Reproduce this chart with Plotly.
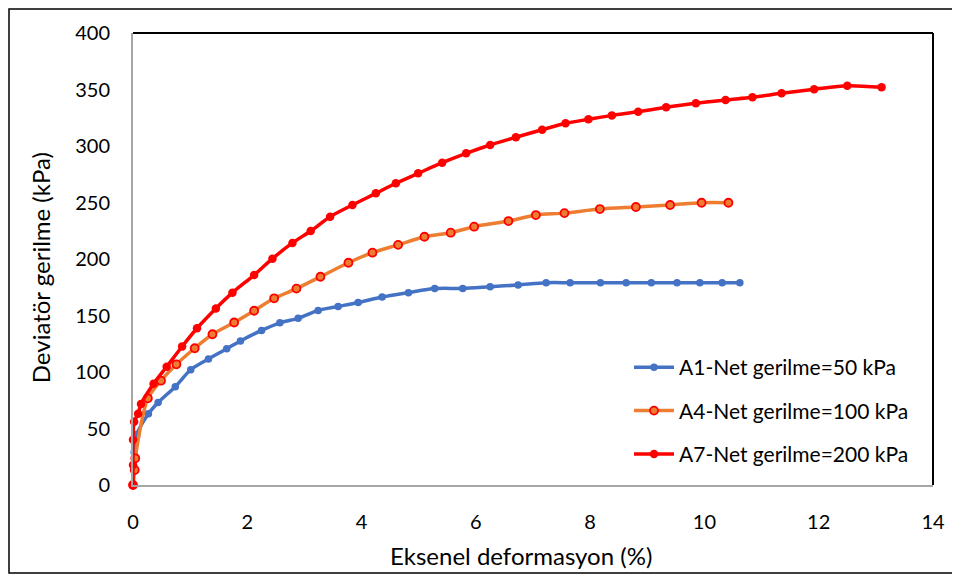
import plotly.graph_objects as go

# A1 - Net gerilme = 50 kPa
a1_x = [0.0, 0.01, 0.02, 0.07, 0.27, 0.44, 0.74, 1.01, 1.32, 1.64, 1.88, 2.25, 2.57, 2.89, 3.24, 3.59,
        3.94, 4.36, 4.82, 5.28, 5.77, 6.25, 6.74, 7.23, 7.65, 8.18, 8.63, 9.07, 9.52, 9.92, 10.31, 10.62]
a1_y = [0, 17, 29, 45, 63, 73, 87, 102, 111.5, 120.5, 127.5, 136.8, 143.5, 147.5, 154.5, 158,
        161.5, 166.3, 170.2, 173.8, 174, 175.5, 177, 179, 179, 179, 179, 179, 179, 179, 179, 179]

# A4 - Net gerilme = 100 kPa
a4_x = [0.0, 0.03, 0.04, 0.26, 0.49, 0.76, 1.08, 1.39, 1.77, 2.12, 2.47, 2.86, 3.28, 3.77, 4.19,
        4.64, 5.1, 5.56, 5.97, 6.57, 7.05, 7.55, 8.17, 8.8, 9.4, 9.95, 10.42]
a4_y = [0, 13.3, 23.6, 76.7, 92.3, 106.8, 121, 133.4, 143.8, 154.2, 165.2, 173.8, 184.3, 196.7, 205.6,
        212.5, 219.7, 223.3, 228.6, 233.6, 238.9, 240.6, 244.2, 246, 247.8, 249.8, 249.8]

# A7 - Net gerilme = 200 kPa
a7_x = [0.0, 0.0, 0.0, 0.02, 0.09, 0.14, 0.36, 0.59, 0.86, 1.12, 1.45, 1.74, 2.12, 2.44, 2.79, 3.11,
        3.45, 3.84, 4.25, 4.6, 4.99, 5.41, 5.83, 6.25, 6.7, 7.16, 7.57, 7.97, 8.38, 8.84, 9.33,
        9.85, 10.37, 10.84, 11.35, 11.92, 12.5, 13.1]
a7_y = [0, 17.7, 40, 56, 63, 71.7, 89.6, 104.7, 122.6, 138.7, 156.2, 170.2, 185.8, 200.3, 214.2, 224.8,
        237.4, 247.8, 258.1, 267, 275.8, 285.2, 293.5, 300.9, 307.7, 314.4, 320.1, 323.6, 327.1, 330.4, 334.2,
        337.8, 340.7, 343.1, 346.6, 350.2, 353.4, 351.9]

names = ["A1-Net gerilme=50 kPa", "A4-Net gerilme=100 kPa", "A7-Net gerilme=200 kPa"]
x_ticks = [0, 2, 4, 6, 8, 10, 12, 14]
y_ticks = [0, 50, 100, 150, 200, 250, 300, 350, 400]
x_title = "Eksenel deformasyon (%)"
y_title = "Deviatör gerilme (kPa)"

FONT = "Lato, 'Open Sans', sans-serif"

fig = go.Figure()
fig.add_trace(go.Scatter(
    x=a1_x, y=a1_y, name=names[0], legendgroup="a1", mode="lines+markers",
    line=dict(color="#4472C4", width=3.5, shape="spline", smoothing=0.8),
    marker=dict(symbol="circle", size=7.5, color="#4472C4")))
fig.add_trace(go.Scatter(
    x=a4_x, y=a4_y, name=names[1], legendgroup="a4", mode="lines+markers",
    line=dict(color="#ED7D31", width=3.5, shape="spline", smoothing=0.8),
    marker=dict(symbol="circle", size=8, color="#ED7D31", line=dict(color="#FF0000", width=1.8))))
fig.add_trace(go.Scatter(
    x=a7_x, y=a7_y, name=names[2], legendgroup="a7", mode="lines+markers",
    line=dict(color="#FF0000", width=3.5, shape="spline", smoothing=0.8),
    marker=dict(symbol="circle", size=8.5, color="#FF0000")))

fig.update_layout(
    width=960, height=578,
    margin=dict(l=125, r=35, t=25, b=101),
    paper_bgcolor="white", plot_bgcolor="white",
    font=dict(family=FONT, size=20, color="#000000"),
    showlegend=True,
    legend=dict(x=0.62, y=0.305, xanchor="left", yanchor="top",
                bgcolor="rgba(255,255,255,0)", font=dict(size=21, family=FONT, color="#000000"),
                traceorder="grouped", tracegroupgap=13, itemwidth=40),
    xaxis=dict(range=[0, 14], tickvals=x_ticks, ticktext=[str(v) for v in x_ticks],
               showgrid=False, zeroline=False, showline=True, linecolor="#A6A6A6", linewidth=2,
               ticks="", ticklen=0, tickfont=dict(size=20), ticklabelstandoff=18),
    yaxis=dict(range=[0, 400], tickvals=y_ticks, ticktext=[str(v) for v in y_ticks],
               showgrid=False, zeroline=False, showline=True, linecolor="#A6A6A6", linewidth=2,
               ticks="", ticklen=0, tickfont=dict(size=20), ticklabelstandoff=17),
    annotations=[
        dict(text=x_title, xref="paper", yref="paper", x=0.485, y=-0.155,
             xanchor="center", yanchor="middle", showarrow=False, font=dict(size=24)),
        dict(text=y_title, xref="paper", yref="paper", x=-0.116, y=0.48, textangle=-90,
             xanchor="center", yanchor="middle", showarrow=False, font=dict(size=24)),
    ],
    shapes=[
        dict(type="line", xref="paper", yref="paper", x0=0, x1=1, y0=1, y1=1,
             line=dict(color="black", width=2)),
        dict(type="line", xref="paper", yref="paper", x0=1, x1=1, y0=0, y1=1,
             line=dict(color="black", width=2)),
        dict(type="rect", xref="paper", yref="paper", x0=-0.155, x1=1.0275, y0=-0.1947, y1=1.053,
             line=dict(color="black", width=1.5), layer="below"),
    ],
)
fig.update_traces(cliponaxis=False)

fig.write_html("out.html")
